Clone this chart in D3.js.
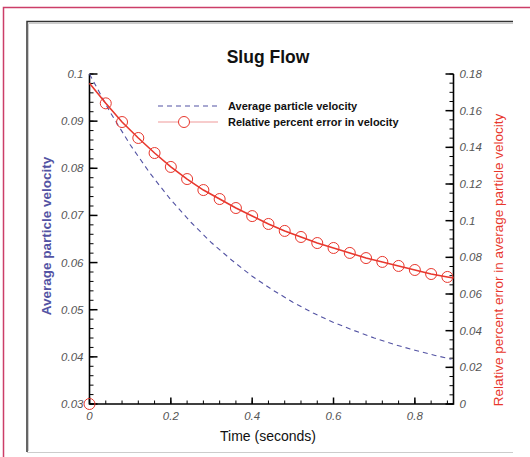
<!DOCTYPE html>
<html>
<head>
<meta charset="utf-8">
<script src="https://cdn.jsdelivr.net/npm/d3@7"></script>
<style>
  body { margin: 0; background: #fff; }
  svg { display: block; font-family: "Liberation Sans", Arial, sans-serif; }
</style>
</head>
<body>
<div id="chart"></div>
<script>
// time (s) and average particle velocity
const velTime = [0, 0.05, 0.1, 0.15, 0.2, 0.25, 0.3, 0.35, 0.4, 0.45, 0.5, 0.55, 0.6, 0.65, 0.7, 0.75, 0.8, 0.85, 0.89];
const velValues = [0.1, 0.092, 0.085, 0.0788, 0.0733, 0.0685, 0.0642, 0.0605, 0.0571, 0.0542, 0.0516, 0.0493, 0.0473, 0.0456, 0.044, 0.0426, 0.0414, 0.0403, 0.0395];

// relative percent error (right axis)
const errTime = [0, 0.04, 0.08, 0.12, 0.16, 0.2, 0.24, 0.28, 0.32, 0.36, 0.4, 0.44, 0.48, 0.52, 0.56, 0.6, 0.64, 0.68, 0.72, 0.76, 0.8, 0.84, 0.88, 0.895];
const errValues = [0.175, 0.164, 0.1538, 0.1451, 0.1369, 0.1293, 0.1227, 0.1167, 0.1118, 0.1069, 0.1025, 0.0982, 0.0944, 0.0911, 0.0878, 0.0851, 0.0824, 0.0796, 0.0775, 0.0753, 0.0731, 0.0709, 0.0693, 0.0687];
const errMarkerTime = [0, 0.04, 0.08, 0.12, 0.16, 0.2, 0.24, 0.28, 0.32, 0.36, 0.4, 0.44, 0.48, 0.52, 0.56, 0.6, 0.64, 0.68, 0.72, 0.76, 0.8, 0.84, 0.88];
const errMarkerValues = [0, 0.164, 0.1538, 0.1451, 0.1369, 0.1293, 0.1227, 0.1167, 0.1118, 0.1069, 0.1025, 0.0982, 0.0944, 0.0911, 0.0878, 0.0851, 0.0824, 0.0796, 0.0775, 0.0753, 0.0731, 0.0709, 0.0693];

const xTicks = [0, 0.2, 0.4, 0.6, 0.8];
const yLeftTicks = [0.03, 0.04, 0.05, 0.06, 0.07, 0.08, 0.09, 0.1];
const yRightTicks = [0, 0.02, 0.04, 0.06, 0.08, 0.1, 0.12, 0.14, 0.16, 0.18];

const blue = "#5353a3";
const red = "#e8372d";

const svg = d3.select("#chart")
    .append("svg")
    .attr("width", 530)
    .attr("height", 457);

// outer pink frame + inner panel frame
svg.append("path")
    .attr("d", "M3.5,457 L3.5,7.5 L530,7.5")
    .attr("fill", "none").attr("stroke", "#cc3d68").attr("stroke-width", 1.5);
svg.append("path")
    .attr("d", "M27,452 L27,21.5 L513,21.5")
    .attr("fill", "none").attr("stroke", "#333").attr("stroke-width", 1.5);
svg.append("path")
    .attr("d", "M28.5,451 L28.5,23.5 L513,23.5")
    .attr("fill", "none").attr("stroke", "#ccc").attr("stroke-width", 1);
svg.append("line")
    .attr("x1", 27).attr("x2", 513).attr("y1", 452.5).attr("y2", 452.5)
    .attr("stroke", "#ccc").attr("stroke-width", 1);

const plotLeft = 89.5, plotRight = 453.5, plotTop = 74, plotBottom = 404;

const x = d3.scaleLinear().domain([0, 0.895]).range([plotLeft, plotRight]);
const yL = d3.scaleLinear().domain([0.03, 0.1]).range([plotBottom, plotTop]);
const yR = d3.scaleLinear().domain([0, 0.18]).range([plotBottom, plotTop]);

// ticks (inward, major + minor)
const g = svg.append("g");
const xMinor = d3.range(0, 0.9, 0.04);
g.selectAll(".xminor").data(xMinor).enter().append("line")
    .attr("x1", d => x(d)).attr("x2", d => x(d))
    .attr("y1", plotBottom).attr("y2", plotBottom - 3.5)
    .attr("stroke", "#000").attr("stroke-width", 1);
g.selectAll(".xmajor").data(xTicks).enter().append("line")
    .attr("x1", d => x(d)).attr("x2", d => x(d))
    .attr("y1", plotBottom).attr("y2", plotBottom - 6.5)
    .attr("stroke", "#000").attr("stroke-width", 1.5);

const yLMinor = d3.range(0.03, 0.1001, 0.002);
g.selectAll(".ylminor").data(yLMinor).enter().append("line")
    .attr("x1", plotLeft).attr("x2", plotLeft + 4)
    .attr("y1", d => yL(d)).attr("y2", d => yL(d))
    .attr("stroke", "#000").attr("stroke-width", 1);
g.selectAll(".ylmajor").data(yLeftTicks).enter().append("line")
    .attr("x1", plotLeft).attr("x2", plotLeft + 8)
    .attr("y1", d => yL(d)).attr("y2", d => yL(d))
    .attr("stroke", "#000").attr("stroke-width", 1.5);

const yRMinor = d3.range(0, 0.1801, 0.005);
g.selectAll(".yrminor").data(yRMinor).enter().append("line")
    .attr("x1", plotRight).attr("x2", plotRight - 4)
    .attr("y1", d => yR(d)).attr("y2", d => yR(d))
    .attr("stroke", "#000").attr("stroke-width", 1);
g.selectAll(".yrmajor").data(yRightTicks).enter().append("line")
    .attr("x1", plotRight).attr("x2", plotRight - 8)
    .attr("y1", d => yR(d)).attr("y2", d => yR(d))
    .attr("stroke", "#000").attr("stroke-width", 1.5);

// axis lines
svg.append("path")
    .attr("d", `M${plotLeft},${plotTop} L${plotLeft},${plotBottom} L${plotRight},${plotBottom} L${plotRight},${plotTop}`)
    .attr("fill", "none").attr("stroke", "#000").attr("stroke-width", 1.6);

// tick labels
const fmt = d3.format(".2~f");
svg.selectAll(".xl").data(xTicks).enter().append("text")
    .attr("x", d => x(d)).attr("y", plotBottom + 16)
    .attr("text-anchor", "middle")
    .attr("font-size", 11.5).attr("font-style", "italic").attr("fill", "#555")
    .text(d => fmt(d));
svg.selectAll(".yll").data(yLeftTicks).enter().append("text")
    .attr("x", plotLeft - 6).attr("y", d => yL(d) + 4)
    .attr("text-anchor", "end")
    .attr("font-size", 11.5).attr("font-style", "italic").attr("fill", "#555")
    .text(d => fmt(d));
svg.selectAll(".yrl").data(yRightTicks).enter().append("text")
    .attr("x", plotRight + 6).attr("y", d => yR(d) + 4)
    .attr("text-anchor", "start")
    .attr("font-size", 11.5).attr("font-style", "italic").attr("fill", "#555")
    .text(d => fmt(d));

// series
const velLine = d3.line().x((d, i) => x(velTime[i])).y(d => yL(d));
svg.append("path")
    .attr("d", velLine(velValues))
    .attr("fill", "none").attr("stroke", blue)
    .attr("stroke-width", 1.1).attr("stroke-dasharray", "5,4");

const errLine = d3.line().x((d, i) => x(errTime[i])).y(d => yR(d));
svg.append("path")
    .attr("d", errLine(errValues))
    .attr("fill", "none").attr("stroke", red).attr("stroke-width", 1.6);

svg.selectAll(".mk").data(errMarkerValues).enter().append("circle")
    .attr("cx", (d, i) => x(errMarkerTime[i]))
    .attr("cy", d => yR(d))
    .attr("r", 5.5)
    .attr("fill", "none").attr("stroke", red).attr("stroke-width", 1);

// title
svg.append("text")
    .attr("x", 268).attr("y", 63)
    .attr("text-anchor", "middle")
    .attr("font-size", 17.5).attr("font-weight", "bold").attr("fill", "#111")
    .text("Slug Flow");

// legend
svg.append("line")
    .attr("x1", 158).attr("x2", 218).attr("y1", 106).attr("y2", 106)
    .attr("stroke", blue).attr("stroke-width", 1.1).attr("stroke-dasharray", "5,4");
svg.append("text")
    .attr("x", 228).attr("y", 110)
    .attr("font-size", 11).attr("font-weight", "bold").attr("fill", "#111")
    .text("Average particle velocity");
svg.append("line")
    .attr("x1", 158).attr("x2", 218).attr("y1", 122).attr("y2", 122)
    .attr("stroke", "#f09a9a").attr("stroke-width", 1.2);
svg.append("circle")
    .attr("cx", 184).attr("cy", 122).attr("r", 5.5)
    .attr("fill", "#fff").attr("stroke", red).attr("stroke-width", 1);
svg.append("text")
    .attr("x", 228).attr("y", 126)
    .attr("font-size", 11).attr("font-weight", "bold").attr("fill", "#111")
    .text("Relative percent error in velocity");

// axis titles
svg.append("text")
    .attr("x", 268).attr("y", 441)
    .attr("text-anchor", "middle")
    .attr("font-size", 14).attr("fill", "#111")
    .text("Time (seconds)");
svg.append("text")
    .attr("transform", "translate(51,236) rotate(-90)")
    .attr("text-anchor", "middle")
    .attr("font-size", 13.5).attr("font-weight", "bold").attr("fill", blue)
    .text("Average particle velocity");
svg.append("text")
    .attr("transform", "translate(503,260) rotate(-90)")
    .attr("text-anchor", "middle")
    .attr("font-size", 13.5).attr("fill", red)
    .text("Relative percent error in average particle velocity");
</script>
</body>
</html>
